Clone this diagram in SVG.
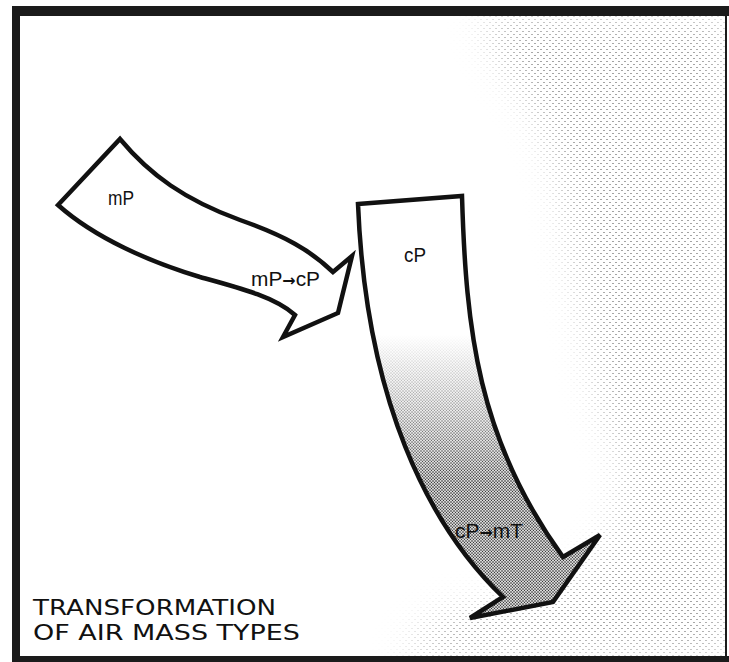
<svg xmlns="http://www.w3.org/2000/svg" width="729" height="662" viewBox="0 0 729 662">
  <style>
    .outline { stroke: #111; stroke-width: 4.5; stroke-linejoin: miter; }
    .lbl { font-family: "Liberation Sans Narrow", "Liberation Sans", Arial, sans-serif; font-size: 21px; fill: #111; }
    .arr { font-family: "DejaVu Sans", sans-serif; font-weight: bold; font-size: 16px; }
    .title { font-family: "DejaVu Sans", "Liberation Sans", sans-serif; font-size: 22px; fill: #111; }
    .frame { fill: #1b1b1b; }
  </style>
  <defs>
    <pattern id="dots" width="6" height="6" patternUnits="userSpaceOnUse">
      <circle cx="1" cy="1.5" r="0.6" fill="#333"/>
      <circle cx="4" cy="4.5" r="0.6" fill="#333"/>
    </pattern>
    <pattern id="stip" width="3" height="3" patternUnits="userSpaceOnUse">
      <rect width="3" height="3" fill="#d8d8d8"/>
      <circle cx="1" cy="1" r="0.8" fill="#222"/>
      <circle cx="2.5" cy="2.4" r="0.55" fill="#333"/>
    </pattern>
    <linearGradient id="fade" gradientUnits="userSpaceOnUse" x1="0" y1="335" x2="0" y2="480">
      <stop offset="0" stop-color="#fff"/>
      <stop offset="1" stop-color="#fff" stop-opacity="0"/>
    </linearGradient>
    <filter id="blur" x="-0.2" y="-0.2" width="1.4" height="1.4">
      <feGaussianBlur stdDeviation="18"/>
    </filter>
    <mask id="bgmask" maskUnits="userSpaceOnUse" x="0" y="0" width="729" height="662">
      <path filter="url(#blur)" fill="#fff" d="M480,16 L729,16 L729,656 L400,656 L440,615 L560,590 L610,540 L625,470 L600,400 L585,320 L570,240 L560,180 L540,120 L500,60 Z"/>
    </mask>
  </defs>

  <rect width="729" height="662" fill="#fff"/>

  <g id="background-stipple">
    <rect x="20" y="16" width="707" height="640" fill="url(#dots)" mask="url(#bgmask)"/>
  </g>

  <g id="frame">
    <rect class="frame" x="12" y="6" width="717" height="10"/>
    <rect class="frame" x="12" y="6" width="8" height="656"/>
    <rect class="frame" x="12" y="656" width="717" height="6"/>
    <rect class="frame" x="725" y="6" width="2" height="656"/>
  </g>

  <g id="arrow-mP">
    <path class="outline" fill="#fff" d="M120,139 C150,175 185,200 240,220 C285,236 310,250 333,272 L352,256 L338,313 L283,337 L295,315 C275,297 240,288 200,277 C150,262 95,238 58,205 Z"/>
    <text class="lbl" x="108" y="205" textLength="26" lengthAdjust="spacingAndGlyphs">mP</text>
    <text class="lbl" x="251" y="286" textLength="69" lengthAdjust="spacingAndGlyphs">mP<tspan class="arr">→</tspan>cP</text>
  </g>

  <g id="arrow-cP">
    <path fill="url(#stip)" d="M358,204 L462,196 C466,330 478,440 563,557 L600,535 L553,602 L470,618 L503,597 C428,525 366,400 358,204 Z"/>
    <path fill="url(#fade)" d="M358,204 L462,196 C466,330 478,440 563,557 L600,535 L553,602 L470,618 L503,597 C428,525 366,400 358,204 Z"/>
    <path class="outline" fill="none" d="M358,204 L462,196 C466,330 478,440 563,557 L600,535 L553,602 L470,618 L503,597 C428,525 366,400 358,204 Z"/>
    <text class="lbl" x="404" y="262" textLength="22" lengthAdjust="spacingAndGlyphs">cP</text>
    <text class="lbl" x="455" y="538" textLength="68" lengthAdjust="spacingAndGlyphs">cP<tspan class="arr">→</tspan>mT</text>
  </g>

  <g id="title">
    <text class="title" x="33" y="615" textLength="243" lengthAdjust="spacingAndGlyphs">TRANSFORMATION</text>
    <text class="title" x="33" y="640" textLength="267" lengthAdjust="spacingAndGlyphs">OF AIR MASS TYPES</text>
  </g>
</svg>
